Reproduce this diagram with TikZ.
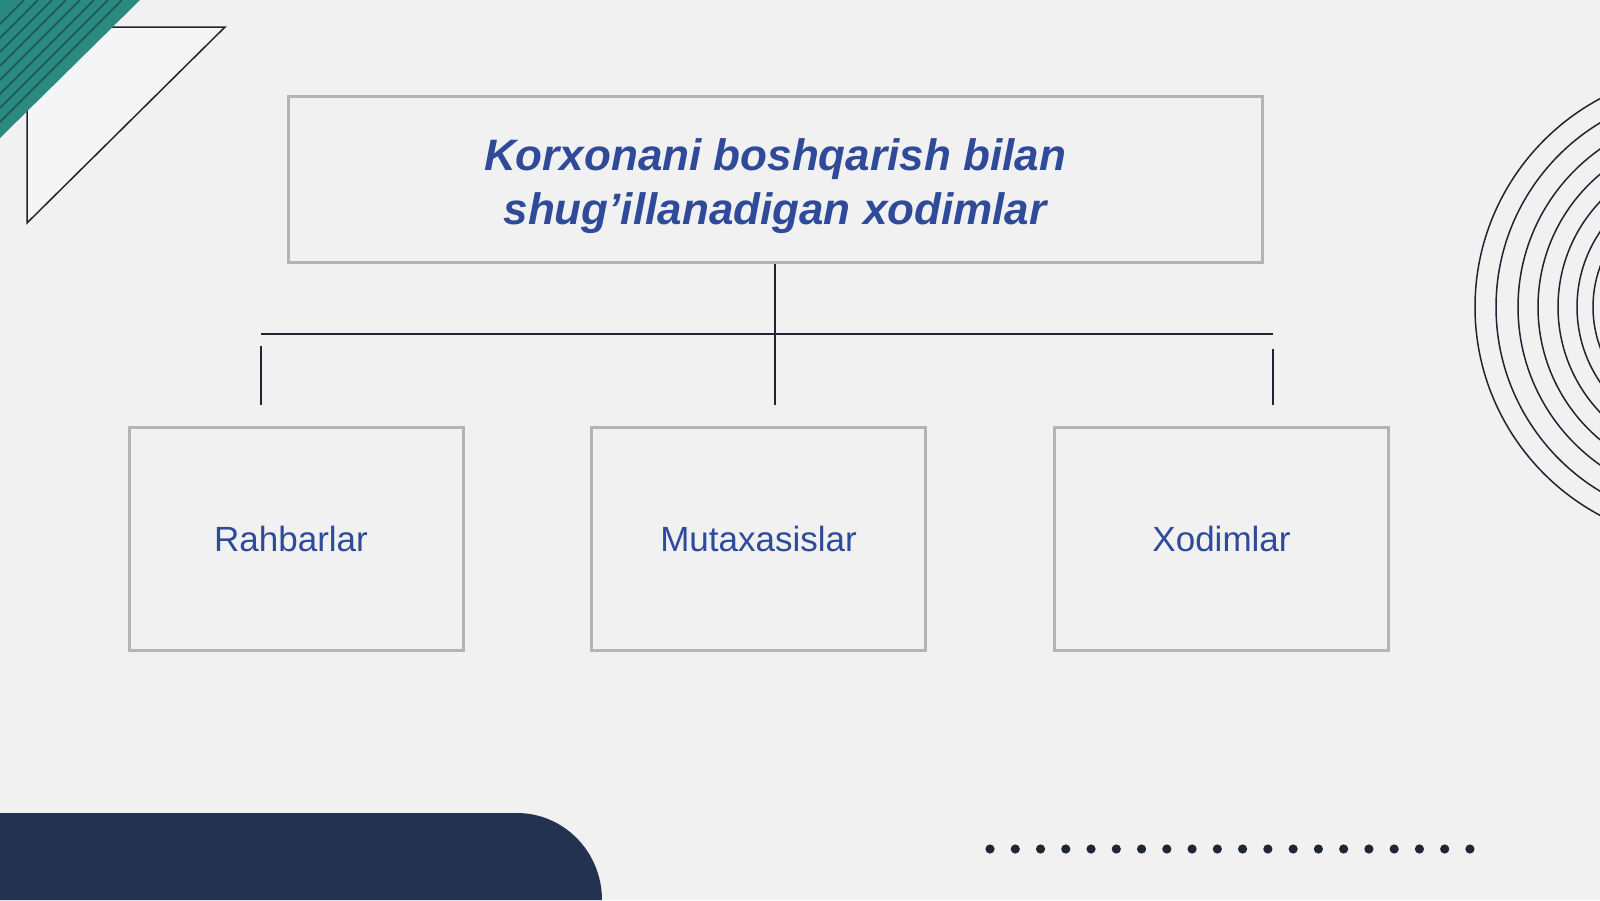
\documentclass[tikz,border=0pt]{standalone}
\usepackage{fontspec}
\setmainfont{Liberation Sans}
\definecolor{bgcol}{HTML}{F1F1F2}
\definecolor{inkblue}{HTML}{2F4A98}
\definecolor{boxgray}{HTML}{B4B4B4}
\definecolor{navy}{HTML}{233251}
\definecolor{linecol}{HTML}{1E2533}
\definecolor{tealcol}{HTML}{2B8A80}
\definecolor{tealdark}{HTML}{1F5458}
\tikzset{
  titlebox/.style={draw=boxgray, line width=3pt, minimum width=974pt, minimum height=166pt},
  titletext/.style={align=center, text=inkblue, font=\fontsize{44}{54}\selectfont\bfseries\itshape},
  groupbox/.style={draw=boxgray, line width=3pt, minimum width=334pt, minimum height=223pt,
    text=inkblue, font=\fontsize{35}{42}\selectfont},
  link/.style={draw=linecol, line width=1.5pt},
}
\begin{document}
\begin{tikzpicture}[x=1pt, y=-1pt]
  \useasboundingbox (0,0) rectangle (1600,900);
  \fill[bgcol] (0,0) rectangle (1600,900);
  %
  % top left corner
  \draw[linecol, line width=1.5pt, fill=white!30!bgcol] (27,223) -- (27,27) -- (225,27) -- cycle;
  \fill[tealcol] (0,0) -- (140,0) -- (0,138) -- cycle;
  \foreach \c in {24,38,...,122}
    \draw[tealdark, line width=1.6pt] (0,\c) -- (\c,0);
  %
  % circles on the right
  \begin{scope}
    \clip (0,0) rectangle (1600,900);
    \foreach \r in {236,215,193,173,153,134,118}
      \draw[linecol, line width=1.5pt] (1711,307) circle[radius=\r];
  \end{scope}
  %
  % bottom band and dots
  \fill[navy] (0,813) -- (517,813) arc[start angle=-90, end angle=0, x radius=85, y radius=87]
    -- (602,900) -- (0,900) -- cycle;
  \foreach \i in {0,...,19}
    \fill[linecol] (990+25.26*\i,849) circle[radius=4.6];
  %
  % boxes
  \node[titlebox] (title) at (775,179) {};
  \node[titletext] (titletext) at (775,186) {Korxonani boshqarish bilan\\shug’illanadigan xodimlar};
  \node[groupbox] (rahbar) at (296,538.5) {\hspace*{-10pt}Rahbarlar};
  \node[groupbox] (mutax) at (758.5,538.5) {Mutaxasislar};
  \node[groupbox] (xodim) at (1221.5,538.5) {Xodimlar};
  %
  % connectors
  \coordinate (barL) at (261,334);
  \coordinate (barR) at (1273,334);
  \coordinate (midend) at (775,405);
  \coordinate (tickLtop) at (261,346);
  \coordinate (tickLbot) at (261,405);
  \coordinate (tickRtop) at (1273,349);
  \coordinate (tickRbot) at (1273,405);
  \draw[link] (title.south) -- (midend);
  \draw[link] (barL) -- (barR);
  \draw[link] (tickLtop) -- (tickLbot);
  \draw[link] (tickRtop) -- (tickRbot);
\end{tikzpicture}
\end{document}
